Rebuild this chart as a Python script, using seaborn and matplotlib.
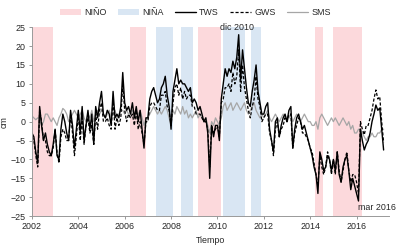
import numpy as np
import pandas as pd
import matplotlib
matplotlib.use("Agg")
import matplotlib.pyplot as plt
from matplotlib.patches import Patch
from matplotlib.lines import Line2D
import seaborn as sns

# monthly anomalies (cm), Jan 2002 - Mar 2017
tws = [
    -3, -4, -8, -11, 4, -1, -5, -3, -6, -8, -9, -6,        # 2002
    -2, -9, -10, -2, 2, 0, -3, -5, 3, -1, -7, -2,          # 2003
    3, -3, 4, -5, -1, 3, -2, 2, -6, 4, 1, 5,               # 2004
    8, 2, 1, 3, 2, -1, 8, 1, 2, 1, 4, 13,                  # 2005
    5, 3, 4, 2, 5, 1, 4, 0, 3, -2, -7, 1,                  # 2006
    1, 6, 8, 9, 7, 5, 6, 9, 10, 12, 7, 4,                  # 2007
    -2, 8, 11, 14, 10, 11, 10, 10, 9, 8, 9, 5,             # 2008
    6, 5, 3, 4, 2, 0, 1, -3, -15, -1, -4, -1,              # 2009
    -1, -5, 6, 10, 14, 12, 14, 13, 16, 14, 17, 23,         # 2010
    11, 19, 14, 9, 5, 4, 8, 11, 15, 8, 5, 2,               # 2011
    2, 4, 5, -2, -5, -8, 0, 1, -4, -1, 1, 2,               # 2012
    0, 3, 4, -7, -2, 1, 2, 0, -2, -1, -3, -5,              # 2013
    -7, -9, -12, -14, -19, -8, -10, -13, -12, -9, -10, -13,  # 2014
    -10, -13, -8, -14, -16, -12, -10, -9, -13, -18, -15, -17,  # 2015
    -19, -21, -2, -5, -7.5, -6, -5, -3, 0, 2, 4.4, 3,      # 2016
    3.6, -2, -7.5,                                         # 2017
]
gws = [
    -4, -5, -9, -12, 3, 0, -5, -5, -8, -9, -9, -7,
    -2, -8, -11, -4, -2, -3, -5, -5, 2, -3, -9, -4,
    2, -5, 1, -6, -1, 1, -3, -1, -6, 2, -2, 3,
    5, 0, 0, 1, -1, -2, 6, -2, 1, -1, 1, 10,
    3, 0, 2, 1, 2, -1, 3, -2, 0, -3, -6, 0,
    0, 4, 5, 5, 4, 3, 3, 7, 7, 8, 4, 3,
    -1, 5, 9, 10, 7, 9, 6, 8, 6, 7, 7, 4,
    4, 2, 2, 2, 1, 0, 0, -2, -12, -1, -3, -2,
    -1, -4, 5, 6, 9, 9, 10, 8, 13, 10, 12, 19,
    8, 15, 9, 6, 3, 1, 4, 6, 12, 6, 4, 0,
    1, 2, 2, -3, -5, -9, -2, 0, -4, -2, -1, 1,
    0, 2, 2, -7, -3, -1, 1, 0, -3, -3, -4, -5,
    -7, -8, -11, -14, -17, -9, -12, -14, -12, -8, -10, -14,
    -10, -14, -8, -13, -16, -13, -10, -8, -13, -16, -14, -14,
    -16, -19, 0, -2, -3.5, -1, -1, 1, 3, 6, 8.4, 6,
    6.6, 0, -5.5,
]
sms = [
    1.5, 1, 0.5, 1, 0.5, -1, 0, 2, 2, 1, 0, 1,
    0, -1, 1, 2, 3.5, 3, 2, 0, 1, 2, 3, 2,
    1, 2, 3, 1, 0, 2, 1, 3, 0, 2, 3, 2,
    3, 2, 1, 2, 3, 1, 2, 3, 1, 2, 3, 3,
    2, 3, 2, 1, 3, 2, 1, 2, 3, 1, -1, 1,
    1, 2, 3, 4, 3, 2, 3, 2, 3, 4, 3, 1,
    -1, 3, 2, 4, 3, 2, 4, 2, 3, 1, 2, 1,
    2, 3, 1, 2, 1, 0, 1, -1, -3, 0, -1, 1,
    0, -1, 1, 4, 5, 3, 4, 5, 3, 4, 5, 4,
    3, 4, 5, 3, 2, 3, 4, 5, 3, 2, 1, 2,
    1, 2, 3, 1, 0, 1, 2, 1, 0, 1, 2, 1,
    0, 1, 2, 0, 1, 2, 1, 0, 1, 2, 1, 0,
    0, -1, -1, 0, -2, 1, 2, 1, 0, -1, 0, 1,
    0, 1, 0, -1, 0, 1, 0, -1, 0, -2, -1, -3,
    -3, -2, -2, -3, -4, -5, -4, -4, -3, -4, -4, -3,
    -3, -2, -2,
]

# ENSO episodes (decimal years)
nino = [(2002.05, 2002.9), (2006.25, 2006.9), (2009.15, 2010.15),
        (2014.2, 2014.55), (2015.0, 2016.25)]
nina = [(2007.35, 2008.1), (2008.45, 2008.95), (2010.25, 2011.2),
        (2011.45, 2011.9)]

year_ticks = [2002, 2004, 2006, 2008, 2010, 2012, 2014, 2016]
y_ticks = [-25, -20, -15, -10, -5, 0, 5, 10, 15, 20, 25]

df = pd.DataFrame({"t": 2002 + np.arange(len(tws)) / 12,
                   "TWS": tws, "GWS": gws, "SMS": sms})

sns.set_style("white")
plt.rcParams["font.family"] = ["Liberation Sans", "DejaVu Sans"]

nino_col = "#fcd9dc"
nina_col = "#d9e6f3"
sms_col = "#a6a6a6"
fs = 6.4

fig, ax = plt.subplots(figsize=(3.99, 2.47), dpi=100)
fig.subplots_adjust(left=0.08, right=0.975, top=0.89, bottom=0.125)

for a, b in nino:
    ax.axvspan(a, b, color=nino_col, lw=0, zorder=0)
for a, b in nina:
    ax.axvspan(a, b, color=nina_col, lw=0, zorder=0)

sns.lineplot(data=df, x="t", y="SMS", ax=ax, color=sms_col, lw=0.9)
sns.lineplot(data=df, x="t", y="GWS", ax=ax, color="black", lw=0.9,
             linestyle=(0, (2.5, 1.5)))
sns.lineplot(data=df, x="t", y="TWS", ax=ax, color="black", lw=1.0)

ax.set_xlim(2002, 2017.4)
ax.set_ylim(-25, 25)
ax.set_xticks(year_ticks)
ax.set_yticks(y_ticks)
ax.tick_params(labelsize=fs, length=2.5, width=0.6, color="#888888",
               direction="out", pad=2)
ax.tick_params(axis="x", bottom=True)
ax.tick_params(axis="y", left=True)
for s in ["top", "right"]:
    ax.spines[s].set_visible(False)
for s in ["left", "bottom"]:
    ax.spines[s].set_color("#999999")
    ax.spines[s].set_linewidth(0.7)

ax.set_xlabel("Tiempo", fontsize=fs, labelpad=3)
ax.set_ylabel("cm", fontsize=fs)
ax.yaxis.set_label_coords(-0.065, 0.5)

ax.text(2010.85, 23.8, "dic 2010", fontsize=fs, ha="center", va="bottom")
ax.text(2016.05, -21.5, "mar 2016", fontsize=fs, ha="left", va="top")

handles = [
    Patch(facecolor=nino_col, edgecolor="none", label="NIÑO"),
    Patch(facecolor=nina_col, edgecolor="none", label="NIÑA"),
    Line2D([], [], color="black", lw=1.0, label="TWS"),
    Line2D([], [], color="black", lw=0.9, linestyle=(0, (2.5, 1.5)), label="GWS"),
    Line2D([], [], color=sms_col, lw=0.9, label="SMS"),
]
fig.legend(handles=handles, loc="upper center", bbox_to_anchor=(0.49, 1.0),
           ncol=5, frameon=False, fontsize=fs, handlelength=2.3,
           handleheight=0.8, columnspacing=1.3, handletextpad=0.4)

fig.savefig("out.png", dpi=100)
